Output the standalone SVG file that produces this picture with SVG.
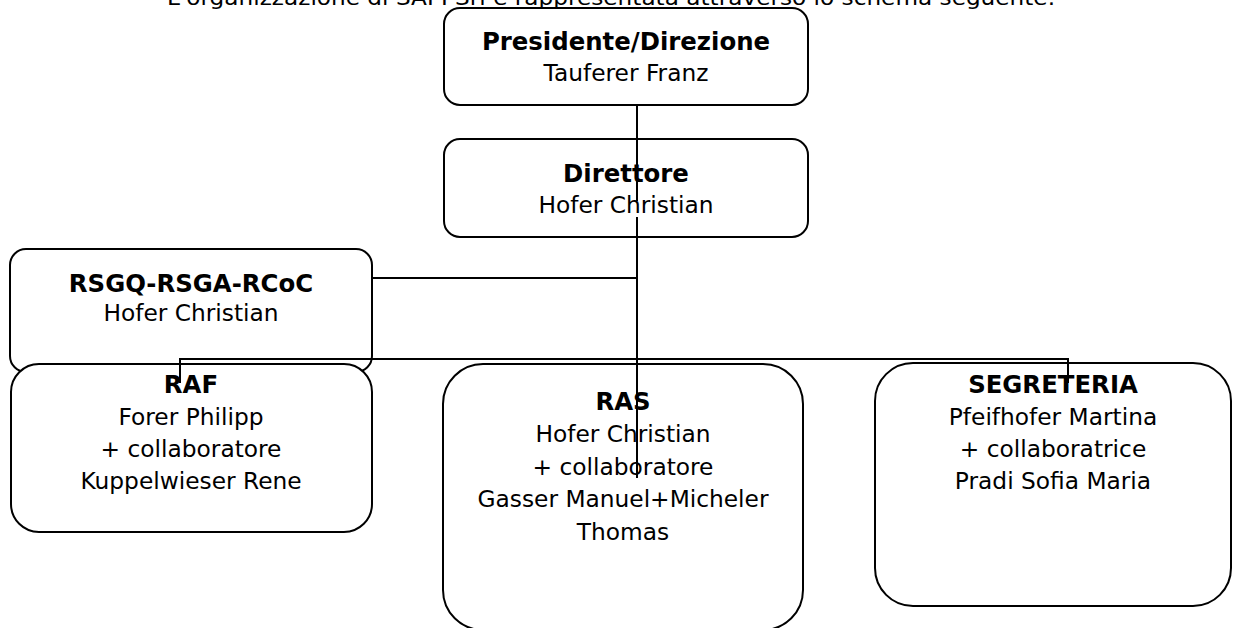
<svg xmlns="http://www.w3.org/2000/svg" width="1234" height="628" viewBox="0 0 1234 628">
<style>
.box{fill:#fff;stroke:#000;stroke-width:2}
.con{stroke:#000;stroke-width:2;fill:none}
text{font-family:"DejaVu Sans","Liberation Sans",sans-serif;font-size:23.3px;fill:#000;text-anchor:middle}
.b{font-weight:bold;font-size:24.4px}
.top{font-size:22px}
</style>
<rect width="1234" height="628" fill="#fff"/>
<text class="top" x="611" y="5" textLength="888" lengthAdjust="spacingAndGlyphs">L'organizzazione di SAPI Srl è rappresentata attraverso lo schema seguente.</text>
<g id="n-presidente">
<rect class="box" x="444" y="8" width="364" height="97" rx="16"/>
<text class="b" x="626" y="50">Presidente/Direzione</text>
<text x="626" y="81">Tauferer Franz</text>
</g>
<g id="n-direttore">
<rect class="box" x="444" y="139" width="364" height="98" rx="16"/>
<text class="b" x="626" y="182">Direttore</text>
<text x="626" y="213">Hofer Christian</text>
</g>
<g id="n-rsgq">
<rect class="box" x="10" y="249" width="362" height="123" rx="16"/>
<text class="b" x="191" y="292">RSGQ-RSGA-RCoC</text>
<text x="191" y="321">Hofer Christian</text>
</g>
<g id="n-raf">
<rect class="box" x="11" y="364" width="361" height="168" rx="28"/>
<text class="b" x="191" y="393">RAF</text>
<text x="191" y="425">Forer Philipp</text>
<text x="191" y="457">+ collaboratore</text>
<text x="191" y="489">Kuppelwieser Rene</text>
</g>
<g id="n-ras">
<rect class="box" x="443" y="364" width="360" height="266" rx="40"/>
<text class="b" x="623" y="410">RAS</text>
<text x="623" y="442">Hofer Christian</text>
<text x="623" y="475">+ collaboratore</text>
<text x="623" y="507">Gasser Manuel+Micheler</text>
<text x="623" y="540">Thomas</text>
</g>
<g id="n-segreteria">
<rect class="box" x="875" y="363" width="356" height="243" rx="38"/>
<text class="b" x="1053" y="393">SEGRETERIA</text>
<text x="1053" y="425">Pfeifhofer Martina</text>
<text x="1053" y="457">+ collaboratrice</text>
<text x="1053" y="489">Pradi Sofia Maria</text>
</g>
<g id="connectors">
<line class="con" x1="637" y1="105" x2="637" y2="201"/>
<line class="con" x1="637" y1="217" x2="637" y2="478"/>
<line class="con" x1="372" y1="278" x2="637" y2="278"/>
<polyline class="con" points="180,383 180,359 1068,359 1068,383"/>
</g>
</svg>
